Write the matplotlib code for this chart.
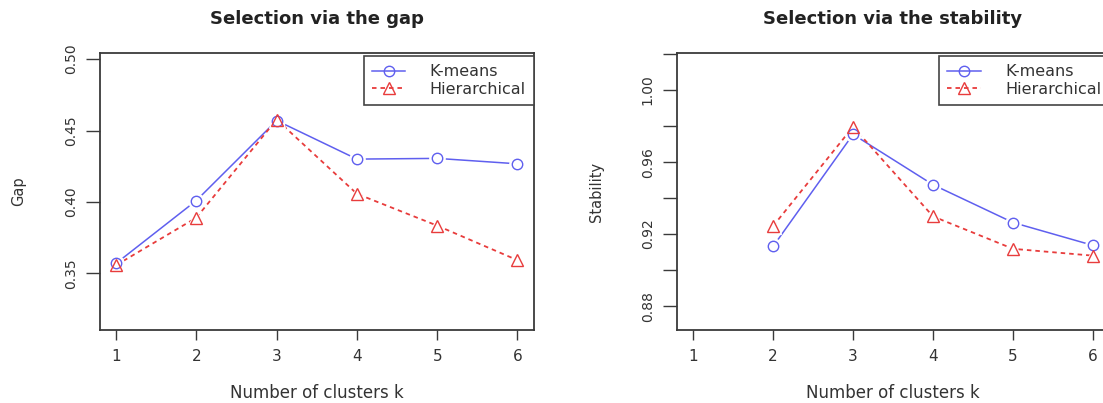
import matplotlib
matplotlib.use("Agg")
import matplotlib.pyplot as plt

plt.rcParams['font.family'] = 'DejaVu Sans'

# gap statistic, k = 1..6
k_gap = [1, 2, 3, 4, 5, 6]
gap_kmeans = [0.357, 0.401, 0.457, 0.430, 0.4305, 0.4267]
gap_hier = [0.3557, 0.389, 0.4577, 0.4057, 0.3834, 0.3592]

# stability, k = 2..6
k_stab = [2, 3, 4, 5, 6]
stab_kmeans = [0.9131, 0.9754, 0.9474, 0.9264, 0.9137]
stab_hier = [0.9244, 0.9796, 0.9298, 0.9118, 0.908]

k_ticks = [1, 2, 3, 4, 5, 6]
gap_yticks = [0.35, 0.40, 0.45, 0.50]
gap_ylabels = ["0.35", "0.40", "0.45", "0.50"]
stab_yticks = [0.88, 0.90, 0.92, 0.94, 0.96, 0.98, 1.00, 1.02]
stab_ylabels = ["0.88", "", "0.92", "", "0.96", "", "1.00", ""]

blue = "#5f5fef"
red = "#e83c3c"
dark = "#3a3a3a"


def panel(ax, xs, km, hc, title, ylabel, ylim, yticks, ylabels):
    l1, = ax.plot(xs, km, color=blue, lw=1.1, marker='o', ms=7.5, mfc='none',
                  mec=blue, mew=1.0, label='K-means', zorder=2)
    l2, = ax.plot(xs, hc, color=red, lw=1.3, ls=(0, (2.5, 2.2)), marker='^', ms=8.5,
                  mfc='none', mec=red, mew=1.0, label='Hierarchical', zorder=2)
    # white halos give the R type="b" look (line stops short of the points)
    ax.plot(xs, km, ls='none', marker='o', ms=11, mfc='white', mec='white', zorder=3)
    ax.plot(xs, hc, ls='none', marker='^', ms=11.5, mfc='white', mec='white', zorder=3)
    ax.plot(xs, km, ls='none', marker='o', ms=7.5, mfc='none', mec=blue, mew=1.0, zorder=4)
    ax.plot(xs, hc, ls='none', marker='^', ms=8.5, mfc='none', mec=red, mew=1.0, zorder=4)

    ax.set_xlim(0.8, 6.2)
    ax.set_ylim(*ylim)
    ax.set_xticks(k_ticks)
    ax.set_yticks(yticks, ylabels, rotation=90, va='center')
    ax.tick_params(axis='y', length=10, width=1, pad=6, labelsize=10,
                   color=dark, labelcolor='#333333')
    ax.tick_params(axis='x', length=7, width=1, pad=7, labelsize=11,
                   color=dark, labelcolor='#333333')
    for s in ax.spines.values():
        s.set_color(dark)
        s.set_linewidth(1.3)

    ax.set_title(title, fontsize=13, fontweight='bold', pad=21, color='#222222')
    ax.set_xlabel("Number of clusters k", fontsize=12, color='#333333')
    ax.xaxis.set_label_coords(0.5, -0.195)
    ax.set_ylabel(ylabel, fontsize=10.5, color='#333333')
    ax.yaxis.set_label_coords(-0.17, 0.5)

    leg = ax.legend(handles=[l1, l2], loc='upper right', bbox_to_anchor=(1.0, 0.989),
                    borderaxespad=0, fontsize=11.5, handlelength=2.1,
                    handletextpad=1.5, borderpad=0.5, labelspacing=0.15,
                    fancybox=False, framealpha=1, edgecolor='#444444')
    leg.get_frame().set_linewidth(1.2)
    for t in leg.get_texts():
        t.set_color('#333333')


fig = plt.figure(figsize=(11.03, 4.03), dpi=100)
ax1 = fig.add_axes([0.0907, 0.1811, 0.393, 0.687])
ax2 = fig.add_axes([0.6138, 0.1811, 0.3917, 0.687])

panel(ax1, k_gap, gap_kmeans, gap_hier, "Selection via the gap", "Gap",
      (0.3103, 0.5042), gap_yticks, gap_ylabels)
panel(ax2, k_stab, stab_kmeans, stab_hier, "Selection via the stability", "Stability",
      (0.8667, 1.0205), stab_yticks, stab_ylabels)

fig.savefig("out.png", dpi=100)
